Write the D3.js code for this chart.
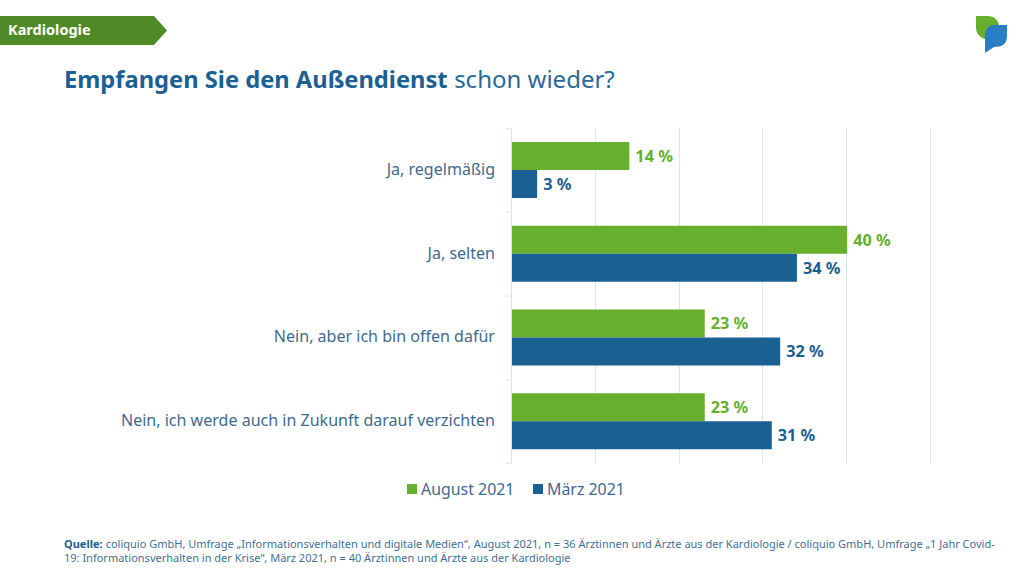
<!DOCTYPE html>
<html>
<head>
<meta charset="utf-8">
<script src="https://cdn.jsdelivr.net/npm/d3@7"></script>
<style>
body { margin: 0; background: #fff; }
svg { display: block; font-family: "Noto Sans", sans-serif; }
</style>
</head>
<body>
<div id="chart"></div>
<script>
var categories = ['Ja, regelmäßig', 'Ja, selten', 'Nein, aber ich bin offen dafür', 'Nein, ich werde auch in Zukunft darauf verzichten'];
var august = [14, 40, 23, 23];
var maerz = [3, 34, 32, 31];
var seriesNames = ['August 2021', 'März 2021'];
var ticks = [0, 10, 20, 30, 40, 50];

var green = '#66b02e', blue = '#1b6092', textBlue = '#3f6a8c';

var svg = d3.select('#chart').append('svg').attr('width', 1024).attr('height', 575);

// header tag
svg.append('path').attr('d', 'M0,16H154L167,30.500L154,45H0Z').attr('fill', '#4f8a26');
svg.append('text').attr('x', 8).attr('y', 35).attr('fill', '#fff')
    .attr('font-size', 14.5).attr('font-weight', 700).text('Kardiologie');

// title
var title = svg.append('text').attr('x', 64).attr('y', 88).attr('fill', blue);
title.append('tspan').attr('font-size', 23.7).attr('font-weight', 700).text('Empfangen Sie den Außendienst');
title.append('tspan').attr('font-size', 24).attr('font-weight', 400).attr('dx', 6.500).attr('fill', '#2b6a97').text('schon wieder?');

// logo
svg.append('path').attr('d', 'M976,16H987C995,16 999,21 999,26C992,25 986,29 985,39C979,37 976,33 976,27Z').attr('fill', green);
svg.append('path').attr('d', 'M994,25H1007V36C1007,44 1002,47 994,47L985,53V36C985,30 988,25 994,25Z').attr('fill', '#2a7fc4');

var x = d3.scaleLinear().domain([0, 50]).range([512, 931]);
var y = d3.scaleBand().domain(categories).range([128, 463]);
var inner = d3.scaleBand().domain(seriesNames).range([14, 70]);

// gridlines and axis
svg.append('g').selectAll('line').data(ticks).enter().append('line')
    .attr('x1', function(d){return Math.round(x(d)) - 0.5}).attr('x2', function(d){return Math.round(x(d)) - 0.5})
    .attr('y1', 128).attr('y2', 463)
    .attr('stroke', '#d6e6f2').attr('stroke-width', 1);
svg.append('g').selectAll('line').data(d3.range(5)).enter().append('line')
    .attr('x1', 506).attr('x2', 512)
    .attr('y1', function(i){return 128 + i * y.step() + 0.5}).attr('y2', function(i){return 128 + i * y.step() + 0.5})
    .attr('stroke', '#d6e6f2');

// category labels
svg.append('g').selectAll('text').data(categories).enter().append('text')
    .attr('x', 495)
    .attr('y', function(d){return y(d) + y.bandwidth() / 2 + 5})
    .attr('text-anchor', 'end').attr('font-size', 16.05).attr('fill', textBlue)
    .text(function(d){return d});

function drawSeries(values, name, color){
    var g = svg.append('g');
    g.selectAll('rect').data(values).enter().append('rect')
        .attr('x', x(0))
        .attr('y', function(d, i){return y(categories[i]) + inner(name)})
        .attr('width', function(d){return x(d) - x(0)})
        .attr('height', inner.bandwidth())
        .attr('fill', color);
    g.selectAll('text').data(values).enter().append('text')
        .attr('x', function(d){return x(d) + 6})
        .attr('y', function(d, i){return y(categories[i]) + inner(name) + inner.bandwidth() / 2 + 5.800})
        .attr('font-size', 16.3).attr('font-weight', 700).attr('fill', color)
        .text(function(d){return d + ' %'});
}
drawSeries(august, seriesNames[0], green);
drawSeries(maerz, seriesNames[1], blue);

// legend
var legendX = [407, 533];
var legendColors = [green, blue];
seriesNames.forEach(function(name, i){
    svg.append('rect').attr('x', legendX[i]).attr('y', 484).attr('width', 10).attr('height', 10).attr('fill', legendColors[i]);
    svg.append('text').attr('x', legendX[i] + 14).attr('y', 495).attr('font-size', 15.9).attr('fill', textBlue).text(name);
});

// source
var source = svg.append('text').attr('x', 64).attr('y', 548).attr('font-size', 11).attr('fill', '#3f7096');
source.append('tspan').attr('font-weight', 700).attr('fill', blue).text('Quelle:');
source.append('tspan').attr('dx', 3).text('coliquio GmbH, Umfrage „Informationsverhalten und digitale Medien“, August 2021, n = 36 Ärztinnen und Ärzte aus der Kardiologie / coliquio GmbH, Umfrage „1 Jahr Covid-');
svg.append('text').attr('x', 64).attr('y', 562).attr('font-size', 11).attr('fill', '#3f7096')
    .text('19: Informationsverhalten in der Krise“, März 2021, n = 40 Ärztinnen und Ärzte aus der Kardiologie');
</script>
</body>
</html>
